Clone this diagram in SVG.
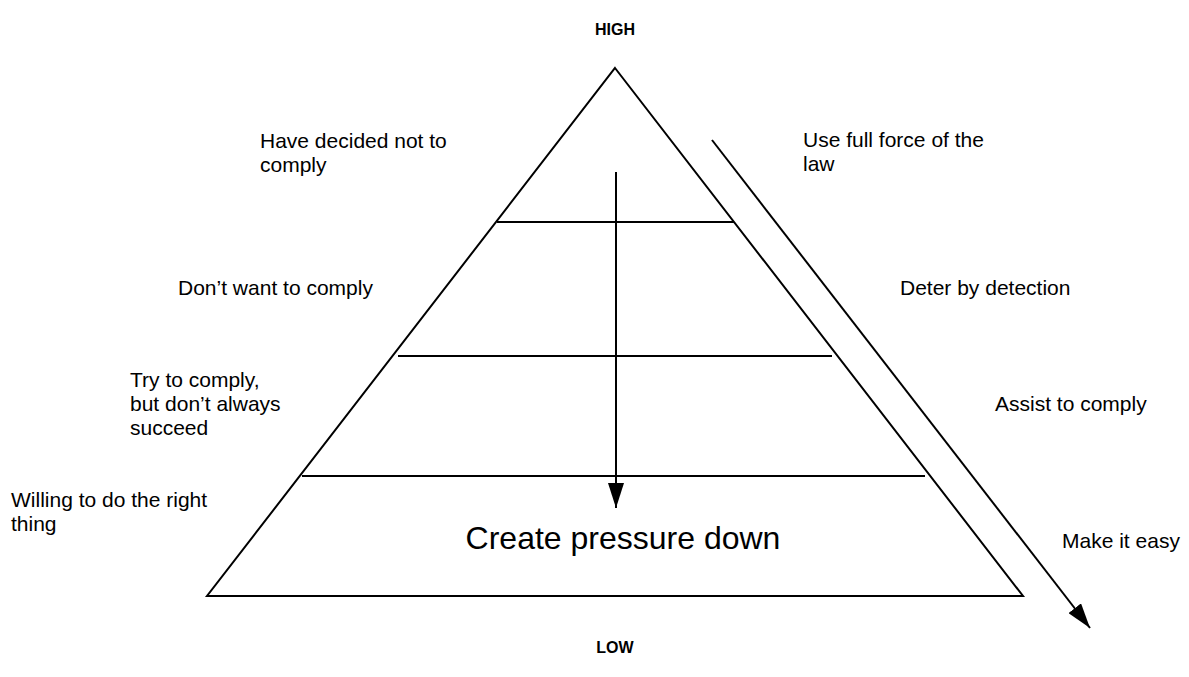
<svg xmlns="http://www.w3.org/2000/svg" width="1189" height="677" viewBox="0 0 1189 677">
<defs>
<style>
.lbl{font-family:"Liberation Sans",Arial,sans-serif;font-size:21px;fill:#000}
.hdr{font-family:"Liberation Sans",Arial,sans-serif;font-size:16px;font-weight:bold;fill:#000}
.big{font-family:"Liberation Sans",Arial,sans-serif;font-size:32px;fill:#000}
.ln{stroke:#000;stroke-width:2;fill:none}
</style>
<marker id="ah2" markerUnits="userSpaceOnUse" viewBox="0 0 25 16" refX="25" refY="8" markerWidth="25" markerHeight="16" orient="auto">
<path d="M0,0 L25,8 L0,16 Z" fill="#000"/>
</marker>
</defs>
<rect width="1189" height="677" fill="#fff"/>
<g id="pyramid">
<polygon class="ln" points="615,68 1023,596 207,596"/>
<line class="ln" x1="497" y1="222" x2="734" y2="222"/>
<line class="ln" x1="398" y1="356" x2="832" y2="356"/>
<line class="ln" x1="302" y1="476" x2="925" y2="476"/>
<text class="big" x="623" y="549" text-anchor="middle">Create pressure down</text>
</g>
<g id="connectors">
<line class="ln" x1="616" y1="172" x2="616" y2="508" marker-end="url(#ah2)"/>
<line class="ln" x1="712" y1="140" x2="1090" y2="628" marker-end="url(#ah2)"/>
</g>
<g id="high"><text class="hdr" x="615" y="35" text-anchor="middle">HIGH</text></g>
<g id="low"><text class="hdr" x="615" y="653" text-anchor="middle">LOW</text></g>
<g id="left-labels">
<text class="lbl" x="260" y="148">Have decided not to</text>
<text class="lbl" x="260" y="172">comply</text>
<text class="lbl" x="178" y="295">Don’t want to comply</text>
<text class="lbl" x="130" y="387">Try to comply,</text>
<text class="lbl" x="130" y="411">but don’t always</text>
<text class="lbl" x="130" y="435">succeed</text>
<text class="lbl" x="11" y="507">Willing to do the right</text>
<text class="lbl" x="11" y="531">thing</text>
</g>
<g id="right-labels">
<text class="lbl" x="803" y="147">Use full force of the</text>
<text class="lbl" x="803" y="171">law</text>
<text class="lbl" x="900" y="295">Deter by detection</text>
<text class="lbl" x="995" y="411">Assist to comply</text>
<text class="lbl" x="1062" y="548">Make it easy</text>
</g>
</svg>
